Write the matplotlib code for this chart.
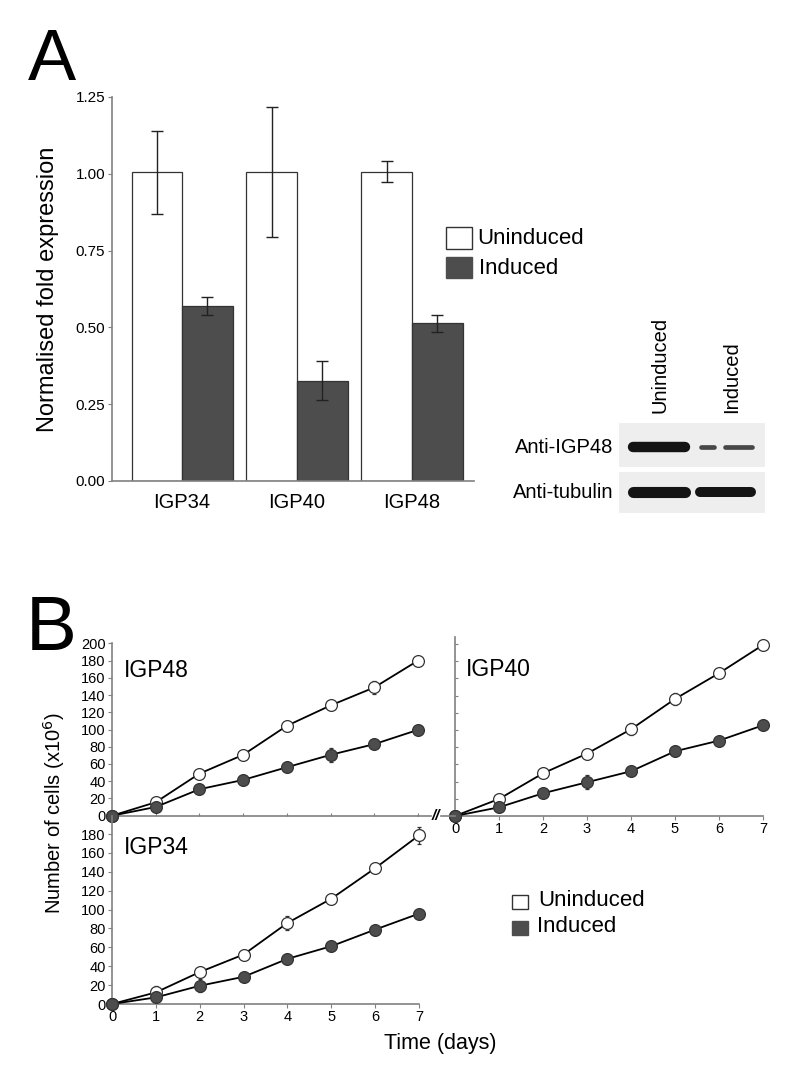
import matplotlib
matplotlib.use('Agg')
import matplotlib.pyplot as plt
import numpy as np
from matplotlib.patches import Rectangle
from matplotlib.lines import Line2D

plt.rcParams['font.family'] = ['Liberation Sans', 'DejaVu Sans']

# ---------------- data ----------------
genes = ['IGP34', 'IGP40', 'IGP48']
uninduced_expr = [1.005, 1.007, 1.007]
uninduced_err = [0.135, 0.212, 0.035]
induced_expr = [0.570, 0.327, 0.513]
induced_err = [0.030, 0.063, 0.027]
expr_ticks = [0.00, 0.25, 0.50, 0.75, 1.00, 1.25]

blot_lanes = ['Uninduced', 'Induced']
blot_rows = ['Anti-IGP48', 'Anti-tubulin']
igp48_band = [1.0, 0.45]
tubulin_band = [1.0, 0.9]

days = [0, 1, 2, 3, 4, 5, 6, 7]
igp48_unind = [0, 15.6, 48.8, 70.6, 104.3, 127.9, 148.8, 179.9]
igp48_ind = [0, 10.1, 30.7, 41.5, 56.2, 70.6, 83.0, 99.6]
igp48_unind_err = [0, 0, 0, 0, 0, 0, 8, 0]
igp48_ind_err = [0, 0, 0, 0, 0, 8, 0, 0]

igp40_unind = [0, 19.8, 49.6, 72.5, 100.8, 136.0, 165.9, 198.8]
igp40_ind = [0, 10.1, 26.4, 39.2, 52.0, 75.2, 87.6, 105.4]
igp40_unind_err = [0, 0, 0, 0, 7, 7, 0, 0]
igp40_ind_err = [0, 0, 0, 8, 0, 0, 0, 0]

igp34_unind = [0, 12.3, 33.8, 52.4, 85.8, 111.5, 143.8, 178.6]
igp34_ind = [0, 7.0, 19.3, 28.8, 47.8, 61.2, 78.8, 95.7]
igp34_unind_err = [0, 7, 0, 0, 7, 0, 0, 9]
igp34_ind_err = [0, 0, 7, 0, 0, 0, 0, 0]

cell_ticks_top = [0, 20, 40, 60, 80, 100, 120, 140, 160, 180, 200]
cell_ticks_bottom = [0, 20, 40, 60, 80, 100, 120, 140, 160, 180]

# ---------------- layout helpers ----------------
W, H = 800, 1083
fig = plt.figure(figsize=(8, 10.83), dpi=100)

def ax_px(x0, y0, x1, y1):
    return fig.add_axes([x0 / W, 1 - y1 / H, (x1 - x0) / W, (y1 - y0) / H])

def ftext(x, y, s, **kw):
    return fig.text(x / W, 1 - y / H, s, **kw)

def fline(xs, ys, **kw):
    fig.add_artist(Line2D([x / W for x in xs], [1 - y / H for y in ys],
                          transform=fig.transFigure, **kw))

def frect(x0, y0, x1, y1, **kw):
    fig.add_artist(Rectangle((x0 / W, 1 - y1 / H), (x1 - x0) / W, (y1 - y0) / H,
                             transform=fig.transFigure, **kw))

DARK = '#4d4d4d'
SPINE = '#808080'

# ---------------- Panel A ----------------
ftext(28, 80, 'A', fontsize=52, va='baseline', ha='left')

axA = ax_px(112, 97, 474, 481)
x = np.arange(len(genes))
w = 0.44
axA.bar(x - w / 2, uninduced_expr, w, color='white', edgecolor='#333333', linewidth=0.9)
axA.bar(x + w / 2, induced_expr, w, color=DARK, edgecolor='#333333', linewidth=0.9)
axA.errorbar(x - w / 2, uninduced_expr, yerr=uninduced_err, fmt='none',
             ecolor='#222222', elinewidth=1, capsize=4.5, capthick=1)
axA.errorbar(x + w / 2, induced_expr, yerr=induced_err, fmt='none',
             ecolor='#222222', elinewidth=1, capsize=4.5, capthick=1)
axA.set_xlim(-0.61, 2.54)
axA.set_ylim(0, 1.25)
axA.set_yticks(expr_ticks)
axA.set_yticklabels([f'{t:.2f}' for t in expr_ticks], fontsize=11)
axA.set_xticks(x)
axA.set_xticklabels(genes, fontsize=14.5)
axA.tick_params(axis='x', length=0, pad=9)
axA.tick_params(axis='y', length=3, width=0.8, color=SPINE, pad=2)
for s in ['top', 'right']:
    axA.spines[s].set_visible(False)
for s in ['left', 'bottom']:
    axA.spines[s].set_color(SPINE)
    axA.spines[s].set_linewidth(1.2)
ftext(48, 289, 'Normalised fold expression', rotation=90, fontsize=17,
      ha='center', va='center')

# Legend A
frect(446, 227, 472, 249, facecolor='white', edgecolor='#333333', linewidth=1)
frect(446, 257, 472, 278, facecolor=DARK, edgecolor=DARK, linewidth=1)
ftext(477, 238, 'Uninduced', fontsize=16, va='center', ha='left')
ftext(479, 268, 'Induced', fontsize=16, va='center', ha='left')

# Western blot
lane_centers = [0.274, 0.729]
lane_half = 0.175
ax_b1 = ax_px(619, 423, 765, 467)
ax_b2 = ax_px(619, 472, 765, 513)
for axb, band, yc, base in [(ax_b1, igp48_band, 0.45, 7.5), (ax_b2, tubulin_band, 0.5, 8.0)]:
    axb.set_facecolor('#eeeeee')
    axb.set_xlim(0, 1)
    axb.set_ylim(0, 1)
    axb.set_xticks([])
    axb.set_yticks([])
    for s in axb.spines.values():
        s.set_visible(False)
    for c, inten in zip(lane_centers, band):
        if inten < 0.6:
            # weak band split into two faint pieces
            for a, b in [(c - lane_half + 0.01, c - 0.075), (c - 0.005, c + lane_half + 0.01)]:
                axb.plot([a, b], [yc, yc], color='#2a2a2a', lw=base * inten,
                         solid_capstyle='round', alpha=0.85)
        else:
            axb.plot([c - lane_half, c + lane_half], [yc, yc], color='#141414',
                     lw=base * inten, solid_capstyle='round')
ftext(613, 447, blot_rows[0], fontsize=14.5, ha='right', va='center')
ftext(613, 492, blot_rows[1], fontsize=14.5, ha='right', va='center')
ftext(660, 413, blot_lanes[0], fontsize=14.5, rotation=90, ha='center', va='bottom')
ftext(732, 413, blot_lanes[1], fontsize=14.5, rotation=90, ha='center', va='bottom')

# ---------------- Panel B ----------------
ftext(26, 650, 'B', fontsize=55, va='baseline', ha='left')

def growth(ax, un, ind, un_err, ind_err):
    ax.errorbar(days, un, yerr=un_err, color='black', lw=1.3, marker='o', ms=8.5,
                mfc='white', mec='#333333', mew=0.9, ecolor='#333333',
                elinewidth=1, capsize=1.5, clip_on=False, zorder=3)
    ax.errorbar(days, ind, yerr=ind_err, color='black', lw=1.3, marker='o', ms=8.5,
                mfc=DARK, mec='#333333', mew=0.9, ecolor='#333333',
                elinewidth=1, capsize=1.5, clip_on=False, zorder=3)
    ax.set_xlim(0, 7)
    for s in ['top', 'right']:
        ax.spines[s].set_visible(False)
    for s in ['left', 'bottom']:
        ax.spines[s].set_color(SPINE)
        ax.spines[s].set_linewidth(1.2)
    ax.set_facecolor('none')

# top-left IGP48
axTL = ax_px(112, 643.3, 418, 815.7)
growth(axTL, igp48_unind, igp48_ind, igp48_unind_err, igp48_ind_err)
axTL.set_ylim(0, 200)
axTL.set_yticks(cell_ticks_top)
axTL.set_yticklabels([str(t) for t in cell_ticks_top], fontsize=10.5)
axTL.set_xticks(days)
axTL.set_xticklabels([])
axTL.tick_params(axis='y', length=3, color=SPINE, pad=1.5)
axTL.tick_params(axis='x', direction='in', length=2, color=SPINE)
axTL.text(0.04, 0.84, 'IGP48', transform=axTL.transAxes, fontsize=16.5,
          ha='left', va='center')

# top-right IGP40
axTR = ax_px(455, 637, 763, 816)
growth(axTR, igp40_unind, igp40_ind, igp40_unind_err, igp40_ind_err)
axTR.set_ylim(0, 208)
axTR.set_yticks(cell_ticks_top)
axTR.set_yticklabels([])
axTR.set_xticks(days)
axTR.set_xticklabels([str(d) for d in days], fontsize=10.5)
axTR.tick_params(axis='y', direction='in', length=2.5, color=SPINE)
axTR.tick_params(axis='x', length=3, color=SPINE, pad=1.5)
axTR.text(0.035, 0.82, 'IGP40', transform=axTR.transAxes, fontsize=16.5,
          ha='left', va='center')

# bottom-left IGP34
axBL = ax_px(112, 815.7, 419, 1004)
growth(axBL, igp34_unind, igp34_ind, igp34_unind_err, igp34_ind_err)
axBL.set_ylim(0, 199.4)
axBL.set_yticks(cell_ticks_bottom)
axBL.set_yticklabels([str(t) for t in cell_ticks_bottom], fontsize=10.5)
axBL.set_xticks(days)
axBL.set_xticklabels([str(d) for d in days], fontsize=10.5)
axBL.tick_params(axis='y', length=3, color=SPINE, pad=1.5)
axBL.tick_params(axis='x', length=3, color=SPINE, pad=1.5)
axBL.text(0.04, 0.83, 'IGP34', transform=axBL.transAxes, fontsize=16.5,
          ha='left', va='center')

# axis break connecting the top panels
fline([418, 431], [815.7, 815.7], color=SPINE, lw=1.2)
fline([441, 455], [815.7, 815.7], color=SPINE, lw=1.2)
ftext(436, 816, '//', fontsize=11, ha='center', va='center', fontweight='bold',
      style='italic')

ftext(54, 813, 'Number of cells (x10$^6$)', rotation=90, fontsize=14.5,
      ha='center', va='center')
ftext(440, 1043, 'Time (days)', fontsize=15.5, ha='center', va='center')

# Legend B
frect(512, 895, 528, 909, facecolor='white', edgecolor='#333333', linewidth=1)
frect(512, 921, 528, 935, facecolor=DARK, edgecolor=DARK, linewidth=1)
ftext(538, 900, 'Uninduced', fontsize=16, va='center', ha='left')
ftext(537, 926, 'Induced', fontsize=16, va='center', ha='left')

fig.savefig('out.png', dpi=100)
